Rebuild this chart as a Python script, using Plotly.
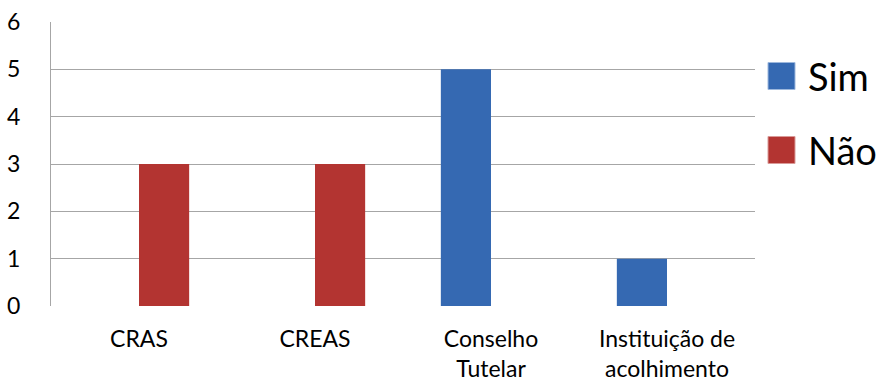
import plotly.graph_objects as go

categories = ["CRAS", "CREAS", "Conselho<br>Tutelar", "Instituição de<br>acolhimento"]
sim_values = [0, 0, 5, 1]
nao_values = [3, 3, 0, 0]
series_names = ["Sim", "Não"]
y_ticks = [0, 1, 2, 3, 4, 5, 6]

colors = {"Sim": "#3569B2", "Não": "#B33431"}

FONT = "Lato, 'Open Sans', sans-serif"

fig = go.Figure()
for name, vals in zip(series_names, [sim_values, nao_values]):
    fig.add_trace(go.Bar(
        x=categories, y=vals, name=name,
        marker=dict(color=colors[name], line=dict(width=0)),
        showlegend=False,
    ))

W, H = 890, 383
ml, mr, mt, mb = 51, 135, 22, 77
pw = W - ml - mr
ph = H - mt - mb

def px_x(x):
    return (x - ml) / pw

def px_y(y):
    return (H - mb - y) / ph

shapes = []
annotations = []
for name, cy in zip(series_names, [76, 150]):
    shapes.append(dict(
        type="rect", xref="paper", yref="paper",
        x0=px_x(768), x1=px_x(795), y0=px_y(cy + 13.5), y1=px_y(cy - 13.5),
        fillcolor=colors[name], line=dict(width=1, color="#9DB8DD" if name == "Sim" else "#D99A98"),
    ))
    annotations.append(dict(
        text=name, xref="paper", yref="paper", x=px_x(806), y=px_y(cy),
        xanchor="left", yanchor="middle", showarrow=False,
        font=dict(family=FONT, size=38, color="#000000"),
    ))

fig.update_layout(
    width=W, height=H,
    margin=dict(l=ml, r=mr, t=mt, b=mb, pad=0),
    paper_bgcolor="white", plot_bgcolor="white",
    barmode="group", bargap=0.43, bargroupgap=0,
    shapes=shapes, annotations=annotations,
    font=dict(family=FONT, color="#000000"),
)
fig.update_xaxes(
    showgrid=False, showline=False, zeroline=False, automargin=False,
    tickfont=dict(family=FONT, size=23, color="#000000"),
    ticklabelstandoff=17,
)
fig.update_yaxes(
    range=[0, 6], tickvals=y_ticks, showgrid=True, gridcolor="#A6A6A6", gridwidth=1,
    showline=True, linecolor="#A6A6A6", linewidth=1, zeroline=False, automargin=False,
    tickfont=dict(family=FONT, size=23, color="#000000"),
    ticklabelstandoff=25,
)

fig.write_html("out.html")
